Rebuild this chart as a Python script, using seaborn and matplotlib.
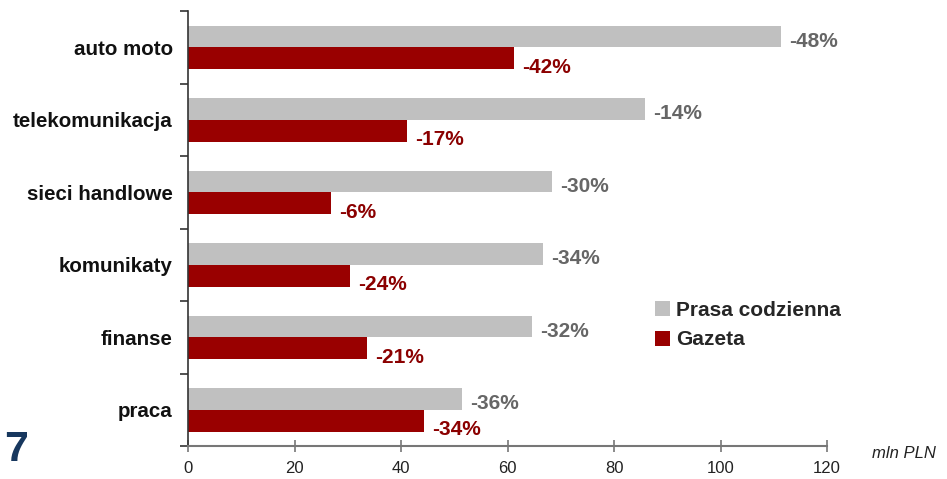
import matplotlib
matplotlib.use("Agg")
import matplotlib.pyplot as plt
import seaborn as sns
import pandas as pd
from matplotlib.ticker import FixedLocator

categories = ["auto moto", "telekomunikacja", "sieci handlowe", "komunikaty", "finanse", "praca"]
series_names = ["Prasa codzienna", "Gazeta"]
prasa_values = [111.4, 85.8, 68.4, 66.7, 64.6, 51.5]
gazeta_values = [61.2, 41.1, 26.9, 30.4, 33.6, 44.3]
prasa_labels = ["-48%", "-14%", "-30%", "-34%", "-32%", "-36%"]
gazeta_labels = ["-42%", "-17%", "-6%", "-24%", "-21%", "-34%"]
x_ticks = [0, 20, 40, 60, 80, 100, 120]

sns.set_style("white")
plt.rcParams["font.family"] = ["Liberation Sans", "DejaVu Sans"]

df = pd.DataFrame({
    "kategoria": categories * 2,
    "wartosc": prasa_values + gazeta_values,
    "seria": [series_names[0]] * len(categories) + [series_names[1]] * len(categories),
})

fig = plt.figure(figsize=(9.47, 4.79), dpi=100)
ax = fig.add_axes([188 / 947, 1 - 446 / 479, (827 - 188) / 947, 435 / 479])

palette = {series_names[0]: "#C0C0C0", series_names[1]: "#990000"}
sns.barplot(data=df, x="wartosc", y="kategoria", hue="seria", order=categories,
            hue_order=series_names, palette=palette, width=0.6, orient="h",
            saturation=1, ax=ax, legend=True, linewidth=0, edgecolor="none")

ax.set_xlim(0, 120)
ax.set_ylim(5.5, -0.5)
ax.set_xlabel("")
ax.set_ylabel("")

# value labels
label_specs = [(prasa_values, prasa_labels, -0.15, "#666666", 5),
               (gazeta_values, gazeta_labels, 0.15, "#8B0000", 9)]
for vals, labs, dy, col, yoff in label_specs:
    for i, (v, lab) in enumerate(zip(vals, labs)):
        ax.annotate(lab, xy=(v, i + dy), xytext=(8, -yoff), textcoords="offset pixels",
                    ha="left", va="center", fontsize=15, fontweight="bold", color=col)

# spines
for s in ["top", "right"]:
    ax.spines[s].set_visible(False)
ax.spines["left"].set_color("#333333")
ax.spines["left"].set_linewidth(1.2)
ax.spines["bottom"].set_color("#777777")
ax.spines["bottom"].set_linewidth(1.5)

# x ticks
ax.set_xticks(x_ticks)
ax.set_xticklabels([str(t) for t in x_ticks])
ax.tick_params(axis="x", direction="inout", length=9, width=1.2, color="#777777",
               labelsize=12, labelcolor="#222222", pad=6, bottom=True)

# y ticks: labels at centers, tick marks at boundaries
ax.tick_params(axis="y", which="major", length=0, pad=11, labelsize=14.8, left=True)
for lbl in ax.get_yticklabels():
    lbl.set_fontweight("bold")
    lbl.set_color("#111111")
ax.yaxis.set_minor_locator(FixedLocator([b - 0.5 for b in range(len(categories) + 1)]))
ax.tick_params(axis="y", which="minor", direction="out", length=6, width=1.2,
               color="#333333", left=True)

# legend
handles, labels = ax.get_legend_handles_labels()
ax.legend(handles, labels, loc="upper left", bbox_to_anchor=(655 / 947, 1 - 301 / 479),
          bbox_transform=fig.transFigure, frameon=False,
          prop={"weight": "bold", "size": 15}, handlelength=0.72, handleheight=0.72,
          handletextpad=0.3, labelspacing=0.5, borderpad=0, borderaxespad=0)

fig.text(872 / 947, 1 - 453 / 479, "mln PLN", fontsize=12, fontstyle="italic",
         color="#222222", ha="left", va="center")
fig.text(4 / 947, 1 - 450 / 479, "7", fontsize=31, fontweight="bold",
         color="#17375E", ha="left", va="center")

fig.savefig("out.png", dpi=100)
